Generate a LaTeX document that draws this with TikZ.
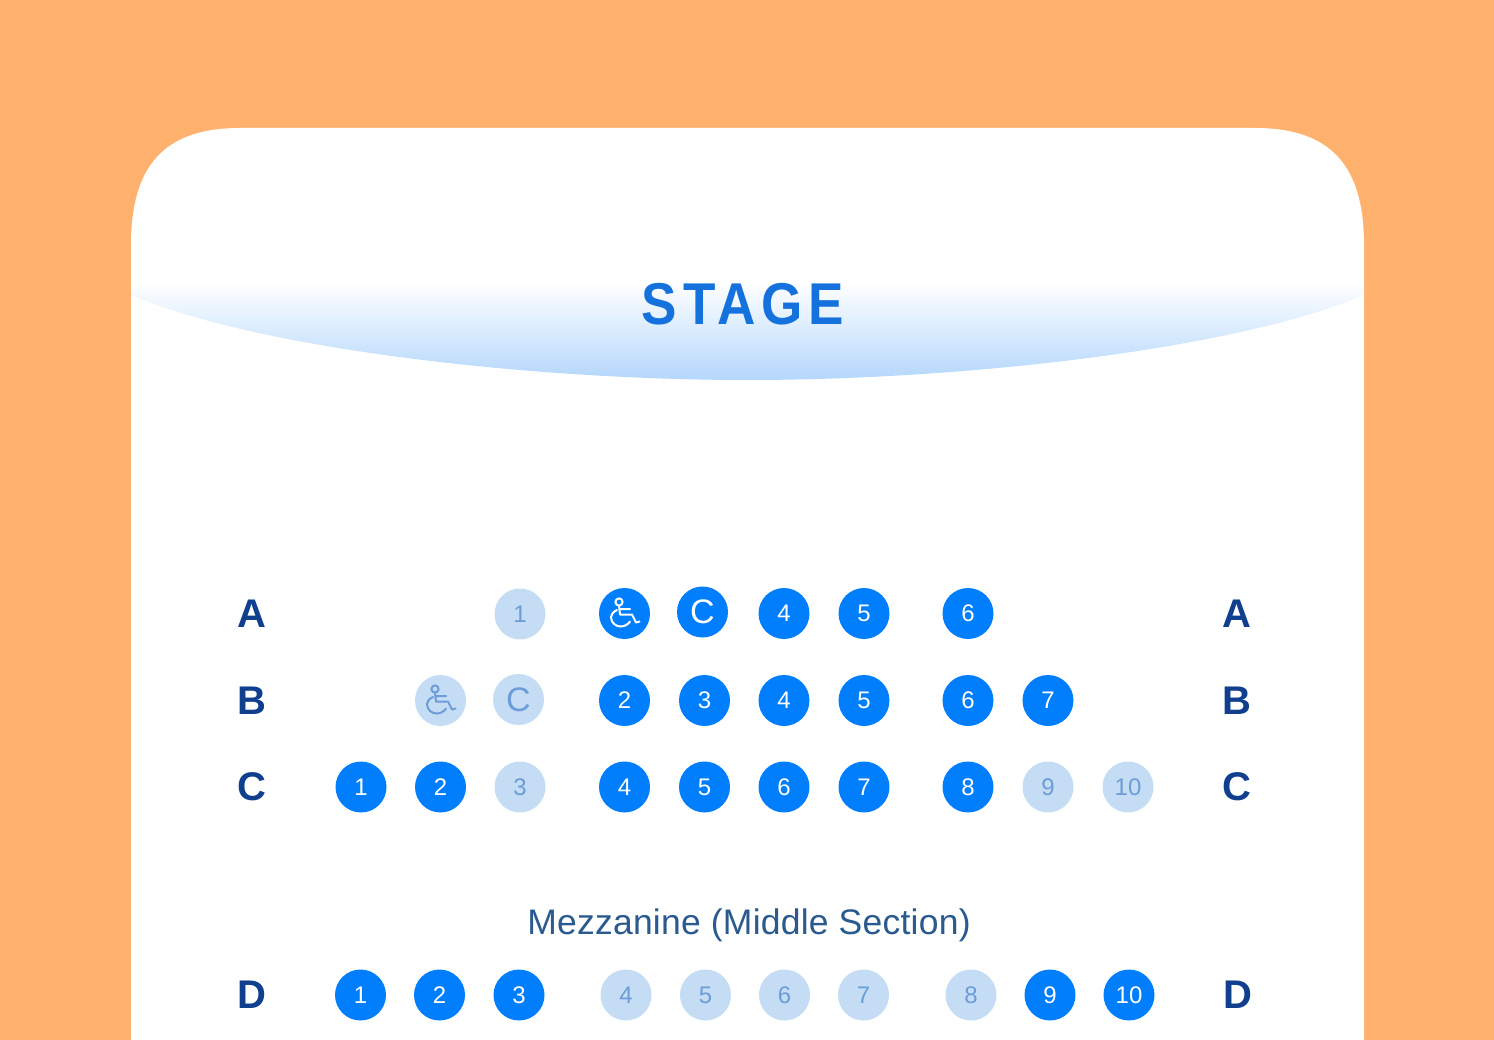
\documentclass[tikz,border=0pt]{standalone}
\usepackage{fontspec}
\setmainfont{Liberation Sans}
\definecolor{bgorange}{HTML}{FFB16D}
\definecolor{seaton}{HTML}{007EFC}
\definecolor{seatoff}{HTML}{C5DCF5}
\definecolor{txtoff}{HTML}{6C9DD8}
\definecolor{rowtxt}{HTML}{103F8E}
\definecolor{stagetxt}{HTML}{1572DC}
\definecolor{mezz}{HTML}{2A5A8E}
\definecolor{stageblue}{HTML}{B4D7FC}
\tikzset{
  seatbase/.style={circle,minimum size=51pt,inner sep=0pt,font=\fontsize{24}{24}\selectfont},
  seat on/.style={seatbase,fill=seaton,text=white},
  seat off/.style={seatbase,fill=seatoff,text=txtoff},
  rowlabel/.style={text=rowtxt,font=\fontsize{40}{40}\selectfont\bfseries,inner sep=0pt},
  chair/.pic={
    \draw[line width=2pt,line cap=round,line join=round,pic actions]
      (-5.5,-11.5) circle[radius=3.6]
      (-5.5,-8) -- (-4.5,1) -- (7.5,1) -- (11.5,9) -- (15,8)
      (-5.2,-4.5) -- (5.5,-4.5);
    \draw[line width=2pt,line cap=round,pic actions]
      (-7.5,-3.5) .. controls (-11.5,-1.5) and (-13.5,1) .. (-13.5,3.5)
      .. controls (-13.5,9) and (-9,13) .. (-4,13)
      .. controls (0,13) and (3.5,11) .. (5.5,8);
  }
}
\begin{document}
\begin{tikzpicture}[x=1pt,y=-1pt]
\useasboundingbox (0,0) rectangle (1494,1040);
\fill[bgorange] (0,0) rectangle (1494,1040);
\fill[white] (131,1040) -- (131,245) .. controls (131,165) and (165,128) .. (240,128)
  -- (1255,128) .. controls (1330,128) and (1364,165) .. (1364,245) -- (1364,1040) -- cycle;
\begin{scope}
  \clip (131,282) -- (1364,282) -- (1364,295) .. controls (1235,350) and (960,380) .. (747.5,380)
    .. controls (535,380) and (260,350) .. (131,295) -- cycle;
  \shade[top color=white,bottom color=stageblue] (131,282) rectangle (1364,380);
\end{scope}
\node[text=stagetxt,font=\fontsize{59}{59}\selectfont\bfseries,inner sep=0pt,anchor=base] (stage) at (743,324.5)
  {\addfontfeature{FakeStretch=0.9,LetterSpace=9.8}STAGE};
\node[text=mezz,font=\fontsize{35.5}{36}\selectfont,inner sep=0pt,anchor=base] (mezz) at (749,934)
  {\addfontfeature{LetterSpace=0.65}Mezzanine (Middle Section)};
% row labels
\foreach \n/\x/\y/\t in {la/252/614/A,ra/1237/614/A,lb/252/701/B,rb/1237/701/B,lc/252/787/C,rc/1237/787/C,ld/252/995/D,rd/1238/995/D}
  \node[rowlabel] (\n) at (\x,\y) {\t};
% row A
\node[seat off] (a1) at (520,614) {1};
\node[seat on] (a2) at (624.5,613.5) {};
\pic[white] at (a2) {chair};
\node[seat on,font=\fontsize{34}{34}\selectfont] (a3) at (702.5,612) {C};
\node[seat on] (a4) at (784,613.5) {4};
\node[seat on] (a5) at (864,613.5) {5};
\node[seat on] (a6) at (968,613.5) {6};
% row B
\node[seat off] (b1) at (440.5,700.5) {};
\pic[txtoff] at (b1) {chair};
\node[seat off,font=\fontsize{34}{34}\selectfont] (b2) at (518.5,699.5) {C};
\foreach \n/\x/\t in {b3/624.5/2,b4/704.5/3,b5/784/4,b6/864/5,b7/968/6,b8/1048/7}
  \node[seat on] (\n) at (\x,700.5) {\t};
% row C
\foreach \n/\x/\t/\s in {c1/361/1/on,c2/440.5/2/on,c3/520/3/off,c4/624.5/4/on,c5/704.5/5/on,c6/784/6/on,c7/864/7/on,c8/968/8/on,c9/1048/9/off,c10/1128/10/off}
  \node[seat \s] (\n) at (\x,787) {\t};
% row D
\foreach \n/\x/\t/\s in {d1/360.5/1/on,d2/439.5/2/on,d3/519/3/on,d4/626/4/off,d5/705.5/5/off,d6/784.5/6/off,d7/863.5/7/off,d8/971/8/off,d9/1050/9/on,d10/1129/10/on}
  \node[seat \s] (\n) at (\x,995) {\t};
\end{tikzpicture}
\end{document}
